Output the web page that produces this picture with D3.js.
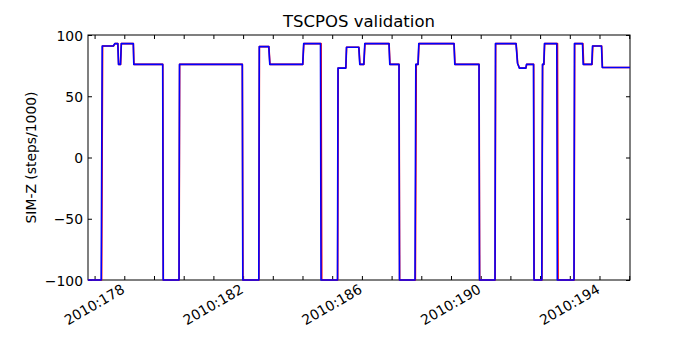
<!DOCTYPE html>
<html>
<head>
<meta charset="utf-8">
<script src="https://cdn.jsdelivr.net/npm/d3@7"></script>
<style>
  body { margin: 0; background: #fff; }
  svg { display: block; }
  text { font-family: "DejaVu Sans", sans-serif; fill: #000; }
</style>
</head>
<body>
<svg id="chart" width="700" height="350"></svg>
<script>
// ---- data (day of year 2010, value in steps/1000) ----
const blueTime = [176.778, 177.222, 177.256, 177.630, 177.680, 177.781, 177.805, 177.872, 177.899, 178.303,
  178.320, 179.293, 179.310, 179.842, 179.859, 181.973, 181.990, 182.529, 182.545, 182.865,
  182.899, 184.007, 184.040, 184.606, 184.623, 185.178, 185.195, 185.458, 185.481, 185.896,
  185.929, 186.064, 186.098, 186.912, 186.939, 187.249, 187.266, 187.788, 187.815, 187.889,
  187.916, 189.101, 189.128, 189.943, 189.960, 190.481, 190.498, 191.189, 191.239, 191.300,
  191.519, 191.542, 191.778, 191.795, 192.057, 192.081, 192.125, 192.148, 192.562, 192.579,
  193.141, 193.158, 193.428, 193.451, 193.741, 193.764, 194.067, 194.094, 195.027];
const blueValue = [-100, -100, 91, 91, 93, 93, 76, 76, 93, 93,
  76, 76, -100, -100, 76, 76, -100, -100, 90.5, 90.5,
  76, 76, 93, 93, -100, -100, 73, 73, 90, 90,
  76, 76, 93, 93, 76, 76, -100, -100, 76, 76,
  93, 93, 76, 76, -100, -100, 93, 93, 77, 73,
  73, 76, 76, -100, -100, 76, 76, 93, 93, -100,
  -100, 93, 93, 76, 76, 91, 91, 73.5, 73.5];

const redTime = [176.778, 177.236, 177.270, 177.635, 177.685, 177.785, 177.810, 177.876, 177.902, 178.306,
  178.324, 179.296, 179.314, 179.845, 179.863, 181.976, 181.994, 182.532, 182.549, 182.869,
  182.904, 184.011, 184.045, 184.625, 184.648, 185.184, 185.202, 185.461, 185.485, 185.900,
  185.934, 186.069, 186.104, 186.916, 186.944, 187.252, 187.270, 187.800, 187.830, 187.894,
  187.922, 189.105, 189.134, 189.946, 189.964, 190.485, 190.504, 191.194, 191.244, 191.305,
  191.524, 191.548, 191.784, 191.800, 192.061, 192.085, 192.130, 192.154, 192.585, 192.605,
  193.145, 193.164, 193.440, 193.466, 193.750, 193.776, 194.072, 194.100, 195.027];
const redValue = blueValue.slice();

const yTicks = [-100, -50, 0, 50, 100];
const xMajorTicks = [178, 182, 186, 190, 194];
const xMinorTicks = d3.range(177, 196);
const titleText = "TSCPOS validation";
const yLabelText = "SIM-Z (steps/1000)";

// ---- layout ----
const svg = d3.select("#chart");
const L = 88, R = 630, T = 35, B = 280;
const x = d3.scaleLinear().domain([176.778, 195.027]).range([L, R]);
const y = d3.scaleLinear().domain([-100, 100]).range([B, T]);

// axes (ticks inward)
const tickLen = 4;
const xb = d3.axisBottom(x).tickValues(xMinorTicks).tickSize(-tickLen).tickFormat("");
const xt = d3.axisTop(x).tickValues(xMinorTicks).tickSize(-tickLen).tickFormat("");
const yl = d3.axisLeft(y).tickValues(yTicks).tickSize(-tickLen).tickPadding(6).tickFormat(d => d < 0 ? "\u2212" + Math.abs(d) : d);
const yr = d3.axisRight(y).tickValues(yTicks).tickSize(-tickLen).tickFormat("");

function style(sel) {
  sel.select(".domain").remove();
  sel.selectAll(".tick line").attr("stroke", "#000").attr("stroke-width", 1);
  sel.selectAll("text").style("font-size", "13.9px").attr("fill", "#000");
}
svg.append("g").attr("transform", `translate(0,${B})`).call(xb).call(style);
svg.append("g").attr("transform", `translate(0,${T})`).call(xt).call(style);
svg.append("g").attr("transform", `translate(${L},0)`).call(yl).call(style)
  .selectAll("text").attr("dy", "0.36em").attr("x", -5);
svg.append("g").attr("transform", `translate(${R},0)`).call(yr).call(style);

// frame
svg.append("rect").attr("x", L).attr("y", T).attr("width", R - L).attr("height", B - T)
  .attr("fill", "none").attr("stroke", "#000").attr("stroke-width", 1);

// lines (drawn over the frame, like the reference)
const line = d3.line().x(d => x(d[0])).y(d => y(d[1]));
const redData = redTime.map((t, i) => [t, redValue[i]]);
const blueData = blueTime.map((t, i) => [t, blueValue[i]]);
const g = svg.append("g");
g.append("path").datum(redData).attr("d", line)
  .attr("fill", "none").attr("stroke", "#ff0000").attr("stroke-width", 1.6).attr("stroke-linejoin", "round");
g.append("path").datum(blueData).attr("d", line)
  .attr("fill", "none").attr("stroke", "#0000ff").attr("stroke-width", 1.6).attr("stroke-linejoin", "round");

// x labels rotated
svg.append("g").selectAll("text").data(xMajorTicks).join("text")
  .attr("transform", d => `translate(${x(d) - 4},${B + 3}) rotate(-30)`)
  .attr("text-anchor", "end")
  .attr("dy", "0.76em")
  .style("font-size", "13.9px")
  .text(d => "2010:" + d);

// title
svg.append("text").attr("x", (L + R) / 2).attr("y", 27)
  .attr("text-anchor", "middle").style("font-size", "16.5px").text(titleText);

// y label
svg.append("text")
  .attr("transform", `translate(36,${(T + B) / 2}) rotate(-90)`)
  .attr("text-anchor", "middle").style("font-size", "13.9px").text(yLabelText);
</script>
</body>
</html>
